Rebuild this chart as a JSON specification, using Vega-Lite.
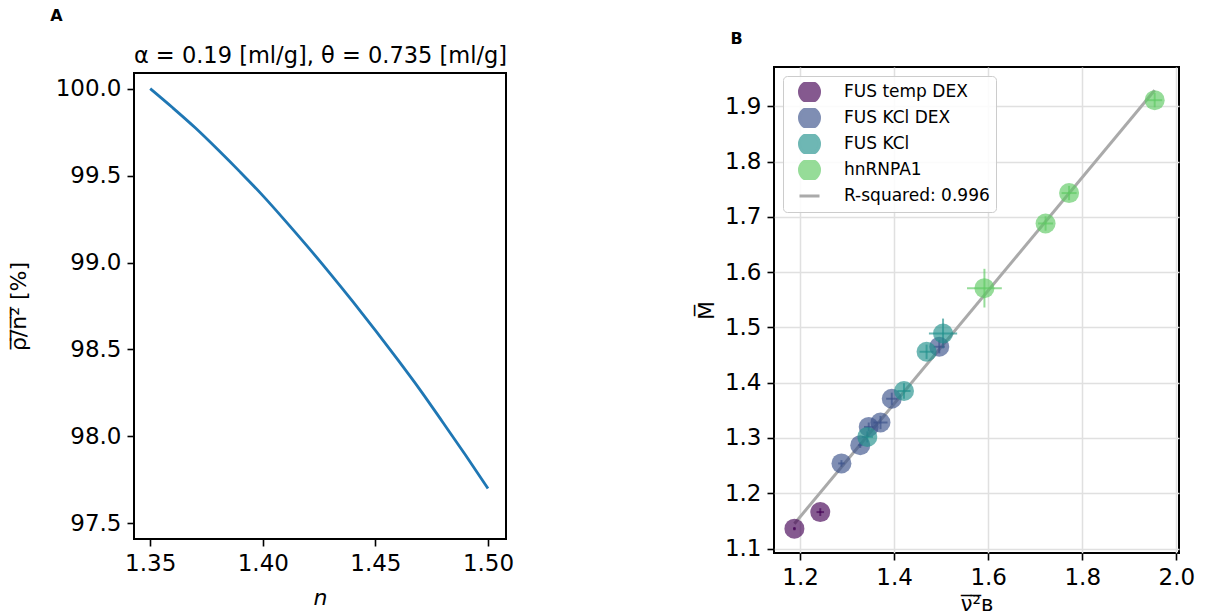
{
  "$schema": "https://vega.github.io/schema/vega-lite/v6.json",
  "background": "white",
  "padding": {"left": 6, "top": 8, "right": 5, "bottom": 2},
  "spacing": 179,
  "center": true,
  "resolve": {"scale": {"color": "independent"}, "legend": {"color": "independent"}},
  "config": {
    "view": {"stroke": "black", "strokeWidth": 2},
    "font": "DejaVu Sans",
    "axis": {"labelFont": "DejaVu Sans", "labelFontSize": 23, "labelColor": "black", "titleFont": "DejaVu Sans", "titleFontSize": 22, "titleFontWeight": "normal", "titleColor": "black", "tickColor": "black", "tickSize": 7, "tickWidth": 1.6, "domain": false, "grid": false, "labelPadding": 6},
    "title": {"font": "DejaVu Sans", "color": "black"}
  },
  "hconcat": [
    {
      "title": {"text": "A", "anchor": "start", "fontSize": 16, "fontWeight": "bold", "dx": 44, "offset": 19},
      "vconcat": [
        {
          "width": 372,
          "height": 466,
          "data": {"values": [
            {"n": 1.35, "v": 100.0},
            {"n": 1.36, "v": 99.89},
            {"n": 1.37, "v": 99.775},
            {"n": 1.38, "v": 99.65},
            {"n": 1.39, "v": 99.52},
            {"n": 1.40, "v": 99.385},
            {"n": 1.41, "v": 99.24},
            {"n": 1.42, "v": 99.09},
            {"n": 1.43, "v": 98.935},
            {"n": 1.44, "v": 98.775},
            {"n": 1.45, "v": 98.61},
            {"n": 1.46, "v": 98.44},
            {"n": 1.47, "v": 98.265},
            {"n": 1.48, "v": 98.08},
            {"n": 1.49, "v": 97.893},
            {"n": 1.50, "v": 97.70}
          ]},
          "resolve": {"axis": {"x": "independent"}},
          "layer": [
            {
              "mark": {"type": "line", "color": "#1f77b4", "strokeWidth": 2.8, "interpolate": "monotone"},
              "encoding": {
                "x": {"field": "n", "type": "quantitative", "scale": {"domain": [1.3428, 1.508], "nice": false, "zero": false}, "axis": {"values": [1.35, 1.4, 1.45, 1.5], "format": ".2f", "title": "n", "titleFontStyle": "italic", "titlePadding": 12}},
                "y": {"field": "v", "type": "quantitative", "scale": {"domain": [97.41, 100.09], "nice": false, "zero": false}, "axis": {"values": [97.5, 98, 98.5, 99, 99.5, 100], "format": ".1f", "title": "ρ̅/̅n̅²̅ [%]", "titlePadding": 25}}
              }
            },
            {
              "mark": {"type": "line", "opacity": 0, "interpolate": "monotone"},
              "encoding": {
                "x": {"field": "n", "type": "quantitative", "axis": {"orient": "top", "title": "α = 0.19 [ml/g], θ = 0.735 [ml/g]", "titleFontSize": 22.5, "labels": false, "ticks": false, "domain": false, "grid": false, "titlePadding": 6}},
                "y": {"field": "v", "type": "quantitative"}
              }
            }
          ]
        }
      ]
    },
    {
      "title": {"text": "B", "anchor": "start", "fontSize": 16, "fontWeight": "bold", "dx": 36, "offset": 19},
      "vconcat": [
        {
          "width": 405,
          "height": 486,
          "encoding": {
            "color": {"field": "series", "type": "nominal",
              "scale": {"domain": ["FUS temp DEX", "FUS KCl DEX", "FUS KCl", "hnRNPA1", "R-squared: 0.996"], "range": ["#440154", "#3b528b", "#21918c", "#5ec962", "#aaaaaa"]},
              "legend": {
                "title": null, "orient": "top-left", "offset": 9,
                "fillColor": "rgba(255,255,255,0.85)", "strokeColor": "#cccccc", "cornerRadius": 4, "padding": 6,
                "labelFontSize": 17, "labelFont": "DejaVu Sans", "labelColor": "black", "labelLimit": 300,
                "symbolSize": 400, "symbolOffset": 9, "labelOffset": 23, "rowPadding": 6, "clipHeight": 20,
                "encode": {"symbols": {"update": {
                  "shape": [{"test": "datum.value === 'R-squared: 0.996'", "value": "stroke"}, {"value": "circle"}],
                  "fill": [
                    {"test": "datum.value === 'FUS temp DEX'", "value": "#440154"},
                    {"test": "datum.value === 'FUS KCl DEX'", "value": "#3b528b"},
                    {"test": "datum.value === 'FUS KCl'", "value": "#21918c"},
                    {"test": "datum.value === 'hnRNPA1'", "value": "#5ec962"},
                    {"value": "transparent"}
                  ],
                  "stroke": [{"test": "datum.value === 'R-squared: 0.996'", "value": "#aaaaaa"}, {"value": "transparent"}],
                  "strokeWidth": {"value": 3},
                  "opacity": [{"test": "datum.value === 'R-squared: 0.996'", "value": 1}, {"value": 0.65}]
                }}}
              }
            }
          },
          "layer": [
            {
              "data": {"values": [
                {"series": "R-squared: 0.996", "x": 1.188, "y": 1.145},
                {"series": "R-squared: 0.996", "x": 1.954, "y": 1.929}
              ]},
              "mark": {"type": "line", "strokeWidth": 3},
              "encoding": {
                "x": {"field": "x", "type": "quantitative", "scale": {"domain": [1.1446, 2.0057], "nice": false, "zero": false}, "axis": {"values": [1.2, 1.4, 1.6, 1.8, 2.0], "format": ".1f", "title": "ν̅²̅ʙ", "titleFontSize": 21, "titlePadding": 4, "grid": true, "gridColor": "#e0e0e0", "gridWidth": 1.5}},
                "y": {"field": "y", "type": "quantitative", "scale": {"domain": [1.092, 1.971], "nice": false, "zero": false}, "axis": {"values": [1.1, 1.2, 1.3, 1.4, 1.5, 1.6, 1.7, 1.8, 1.9], "format": ".1f", "title": "M̅", "titlePadding": 6, "grid": true, "gridColor": "#e0e0e0", "gridWidth": 1.5}}
              }
            },
            {
              "data": {"name": "pts"},
              "layer": [
                {
                  "mark": {"type": "rule", "strokeWidth": 2, "opacity": 0.65},
                  "encoding": {"x": {"field": "xlo", "type": "quantitative"}, "x2": {"field": "xhi"}, "y": {"field": "y", "type": "quantitative"}}
                },
                {
                  "mark": {"type": "rule", "strokeWidth": 2, "opacity": 0.65},
                  "encoding": {"x": {"field": "x", "type": "quantitative"}, "y": {"field": "ylo", "type": "quantitative"}, "y2": {"field": "yhi"}}
                },
                {
                  "mark": {"type": "point", "filled": true, "size": 400, "opacity": 0.65, "shape": "circle"},
                  "encoding": {"x": {"field": "x", "type": "quantitative"}, "y": {"field": "y", "type": "quantitative"}}
                }
              ]
            }
          ]
        }
      ]
    }
  ],
  "datasets": {
    "pts": [
      {"series": "FUS temp DEX", "x": 1.188, "y": 1.136, "xlo": 1.185, "xhi": 1.191, "ylo": 1.133, "yhi": 1.139},
      {"series": "FUS temp DEX", "x": 1.243, "y": 1.166, "xlo": 1.235, "xhi": 1.251, "ylo": 1.159, "yhi": 1.173},
      {"series": "FUS KCl DEX", "x": 1.288, "y": 1.254, "xlo": 1.281, "xhi": 1.295, "ylo": 1.248, "yhi": 1.260},
      {"series": "FUS KCl DEX", "x": 1.328, "y": 1.287, "xlo": 1.323, "xhi": 1.333, "ylo": 1.282, "yhi": 1.292},
      {"series": "FUS KCl DEX", "x": 1.346, "y": 1.320, "xlo": 1.336, "xhi": 1.356, "ylo": 1.312, "yhi": 1.328},
      {"series": "FUS KCl DEX", "x": 1.371, "y": 1.328, "xlo": 1.356, "xhi": 1.386, "ylo": 1.316, "yhi": 1.340},
      {"series": "FUS KCl DEX", "x": 1.395, "y": 1.371, "xlo": 1.383, "xhi": 1.407, "ylo": 1.360, "yhi": 1.382},
      {"series": "FUS KCl DEX", "x": 1.496, "y": 1.465, "xlo": 1.484, "xhi": 1.508, "ylo": 1.453, "yhi": 1.477},
      {"series": "FUS KCl", "x": 1.343, "y": 1.302, "xlo": 1.331, "xhi": 1.355, "ylo": 1.292, "yhi": 1.312},
      {"series": "FUS KCl", "x": 1.421, "y": 1.385, "xlo": 1.407, "xhi": 1.435, "ylo": 1.371, "yhi": 1.399},
      {"series": "FUS KCl", "x": 1.469, "y": 1.456, "xlo": 1.454, "xhi": 1.484, "ylo": 1.443, "yhi": 1.469},
      {"series": "FUS KCl", "x": 1.504, "y": 1.489, "xlo": 1.474, "xhi": 1.534, "ylo": 1.462, "yhi": 1.516},
      {"series": "hnRNPA1", "x": 1.592, "y": 1.571, "xlo": 1.555, "xhi": 1.629, "ylo": 1.536, "yhi": 1.606},
      {"series": "hnRNPA1", "x": 1.722, "y": 1.688, "xlo": 1.706, "xhi": 1.738, "ylo": 1.675, "yhi": 1.701},
      {"series": "hnRNPA1", "x": 1.772, "y": 1.743, "xlo": 1.756, "xhi": 1.788, "ylo": 1.730, "yhi": 1.756},
      {"series": "hnRNPA1", "x": 1.954, "y": 1.911, "xlo": 1.938, "xhi": 1.970, "ylo": 1.898, "yhi": 1.924}
    ]
  }
}
